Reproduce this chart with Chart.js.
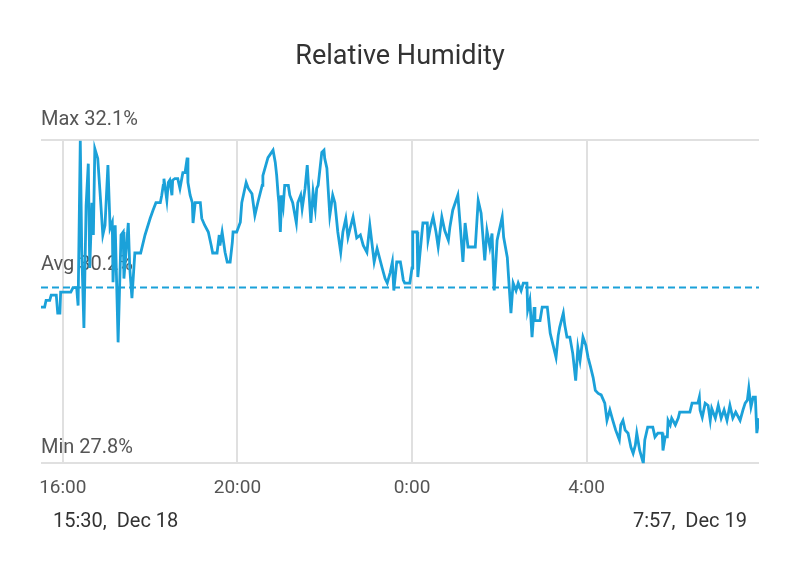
<!DOCTYPE html>
<html>
<head>
<meta charset="utf-8">
<title>Relative Humidity</title>
<script src="https://cdn.jsdelivr.net/npm/chart.js@4.4.1/dist/chart.umd.min.js"></script>
<style>
  html, body { margin: 0; padding: 0; background: #ffffff; }
  #wrap { width: 800px; height: 573px; }
</style>
</head>
<body>
<div id="wrap"><canvas id="humedadChart" width="800" height="573"></canvas></div>
<script>
// Minutos desde las 15:30 del 18 dic
const minutos = [
  0, 5, 7, 12, 14, 21, 23, 26, 27, 41, 44, 49, 51, 54, 56, 59, 62, 65, 67, 70,
  72, 74, 78, 81, 85, 88, 92, 95, 98, 99, 102, 106, 110, 113, 114, 120, 122, 125, 129, 137,
  143, 150, 154, 158, 164, 166, 168, 169, 173, 175, 177, 180, 181, 184, 188, 191, 195, 198, 201, 202,
  205, 208, 209, 212, 219, 221, 225, 230, 234, 236, 242, 245, 246, 249, 253, 256, 260, 263, 264, 269,
  274, 276, 282, 285, 290, 294, 298, 304, 305, 312, 319, 322, 324, 326, 327, 329, 331, 333, 335, 340,
  342, 346, 351, 353, 357, 359, 363, 366, 368, 371, 374, 377, 379, 381, 386, 389, 390, 393, 397, 401,
  404, 408, 412, 415, 419, 422, 425, 429, 434, 439, 443, 448, 452, 458, 462, 469, 473, 476, 480, 483,
  485, 489, 494, 496, 498, 500, 507, 510, 511, 517, 518, 521, 525, 531, 532, 535, 539, 543, 546, 551,
  555, 560, 562, 566, 573, 576, 580, 583, 587, 597, 601, 605, 610, 613, 617, 620, 623, 627, 634, 636,
  641, 643, 646, 649, 653, 656, 660, 663, 668, 669, 672, 675, 678, 679, 686, 689, 696, 700, 704, 708,
  711, 713, 718, 720, 723, 727, 731, 735, 738, 741, 745, 749, 752, 755, 759, 762, 766, 770, 775, 778,
  782, 786, 790, 795, 797, 800, 803, 807, 811, 814, 817, 819, 823, 828, 830, 834, 841, 844, 848, 854,
  855, 858, 861, 862, 865, 867, 872, 876, 878, 892, 895, 903, 905, 906, 909, 913, 917, 920, 922, 927,
  931, 935, 939, 943, 947, 951, 955, 961, 965, 968, 971, 973, 976, 979, 982, 984, 987
];

// Humedad relativa (%)
const humedad = [
  29.88, 29.88, 29.97, 29.97, 30.04, 30.04, 29.80, 29.80, 30.08, 30.08, 30.14, 30.14, 29.90, 32.10, 30.64, 29.60, 31.23, 31.79, 30.40, 31.27,
  30.84, 31.99, 31.86, 31.43, 30.84, 30.97, 31.77, 30.93, 31.01, 30.21, 30.97, 29.41, 30.84, 30.88, 30.26, 31.00, 30.40, 30.00, 30.60, 30.60,
  30.84, 31.06, 31.17, 31.27, 31.27, 31.37, 31.50, 31.59, 31.30, 31.54, 31.57, 31.37, 31.57, 31.59, 31.59, 31.46, 31.67, 31.67, 31.87, 31.54,
  31.37, 31.27, 31.00, 31.27, 31.27, 31.06, 30.97, 30.88, 30.70, 30.60, 30.60, 30.84, 30.70, 30.88, 30.61, 30.48, 30.48, 30.74, 30.88, 30.88,
  31.01, 31.27, 31.54, 31.46, 31.39, 31.10, 31.27, 31.50, 31.63, 31.87, 31.97, 31.81, 31.63, 31.37, 31.27, 30.88, 31.37, 31.23, 31.50, 31.50,
  31.37, 31.27, 31.00, 31.27, 31.37, 31.19, 31.46, 31.77, 31.46, 31.00, 31.41, 31.19, 31.46, 31.50, 31.94, 31.97, 31.86, 31.73, 31.10, 31.37,
  31.27, 30.88, 30.61, 30.88, 31.06, 30.81, 30.93, 31.08, 30.80, 30.84, 30.70, 30.61, 30.97, 30.48, 30.66, 30.40, 30.26, 30.20, 30.34, 30.48,
  30.10, 30.48, 30.48, 30.37, 30.24, 30.20, 30.20, 30.40, 30.88, 30.88, 30.28, 30.60, 31.00, 31.00, 30.77, 30.93, 31.08, 30.88, 30.68, 31.08,
  30.90, 30.77, 30.94, 31.17, 31.37, 31.00, 30.48, 31.00, 30.68, 30.68, 31.30, 31.13, 30.50, 30.90, 30.68, 30.86, 30.10, 30.77, 31.08, 30.81,
  30.54, 30.24, 29.80, 30.20, 30.10, 30.20, 30.10, 30.20, 30.20, 29.84, 29.97, 29.48, 29.88, 29.70, 29.70, 29.88, 29.88, 29.53, 29.37, 29.21,
  29.50, 29.61, 29.80, 29.64, 29.48, 29.48, 29.26, 28.90, 29.34, 29.17, 29.48, 29.37, 29.21, 29.10, 28.94, 28.77, 28.73, 28.71, 28.60, 28.37,
  28.51, 28.37, 28.24, 28.11, 28.31, 28.37, 28.24, 28.20, 28.01, 27.93, 28.04, 28.20, 27.97, 27.80, 28.11, 28.28, 28.28, 28.15, 28.20, 28.20,
  27.97, 28.15, 28.15, 28.37, 28.31, 28.40, 28.31, 28.40, 28.48, 28.48, 28.60, 28.60, 28.68, 28.51, 28.41, 28.60, 28.57, 28.37, 28.53, 28.40,
  28.57, 28.40, 28.51, 28.37, 28.57, 28.40, 28.48, 28.37, 28.51, 28.60, 28.64, 28.80, 28.55, 28.68, 28.68, 28.20, 28.40
];

const tickMinutos = [30, 270, 510, 750];
const tickLabels = ["16:00", "20:00", "0:00", "4:00"];
const finMinutos = 987;

const maxHum = 32.1;
const minHum = 27.8;
const avgHum = 30.14; // donde cae la linea punteada
const statLabels = ["Max 32.1%", "Avg 30.2%", "Min 27.8%"];
const rangoLabels = ["15:30,  Dec 18", "7:57,  Dec 19"];

const azul = "#1ba1d9";
const gris = "#e0e0e0";
const fuente = "Roboto, 'Noto Sans', sans-serif";

// Textos Max/Avg/Min (debajo de la linea) y rango de fechas abajo
const textosPlugin = {
  id: "textos",
  beforeDatasetsDraw(chart) {
    const { ctx, chartArea, scales } = chart;
    const y = scales.y;
    ctx.save();
    ctx.font = "20px " + fuente;
    ctx.fillStyle = "#555555";
    ctx.textAlign = "left";
    ctx.textBaseline = "alphabetic";
    ctx.fillText(statLabels[0], chartArea.left, y.getPixelForValue(maxHum) - 15);
    ctx.fillText(statLabels[1], chartArea.left, y.getPixelForValue(avgHum) - 18);
    ctx.fillText(statLabels[2], chartArea.left, y.getPixelForValue(minHum) - 10);
    ctx.restore();
  },
  afterDraw(chart) {
    const { ctx, chartArea } = chart;
    ctx.save();
    ctx.font = "20px " + fuente;
    ctx.fillStyle = "#333333";
    ctx.textBaseline = "middle";
    ctx.textAlign = "left";
    ctx.fillText(rangoLabels[0], chartArea.left + 12, chartArea.bottom + 59);
    ctx.textAlign = "right";
    ctx.fillText(rangoLabels[1], chartArea.right - 12, chartArea.bottom + 59);
    ctx.restore();
  }
};

const ctx = document.getElementById("humedadChart").getContext("2d");

new Chart(ctx, {
  type: "line",
  data: {
    datasets: [
      {
        label: "Humedad",
        data: humedad.map((v, i) => ({ x: minutos[i], y: v })),
        borderColor: azul,
        borderWidth: 2.8,
        pointRadius: 0,
        tension: 0,
        fill: false,
      },
      {
        label: "Promedio",
        data: [{ x: 0, y: avgHum }, { x: finMinutos, y: avgHum }],
        borderColor: azul,
        borderWidth: 2,
        borderDash: [7, 4],
        pointRadius: 0,
        fill: false,
      }
    ]
  },
  options: {
    responsive: false,
    animation: false,
    devicePixelRatio: 1,
    layout: {
      padding: { left: 41, right: 41, top: 0, bottom: 59 }
    },
    plugins: {
      legend: { display: false },
      tooltip: { enabled: false },
      title: {
        display: true,
        text: "Relative Humidity",
        color: "#333333",
        font: { family: fuente, size: 27, weight: "normal" },
        padding: { top: 41, bottom: 67 }
      }
    },
    scales: {
      x: {
        type: "linear",
        min: 0,
        max: finMinutos,
        afterBuildTicks: (scale) => {
          scale.ticks = tickMinutos.map(v => ({ value: v }));
        },
        ticks: {
          autoSkip: false,
          maxRotation: 0,
          padding: 14,
          color: "#555555",
          font: { family: fuente, size: 19 },
          callback: (value, index) => tickLabels[index]
        },
        grid: { color: gris, lineWidth: 2, drawTicks: false },
        border: { display: false }
      },
      y: {
        min: minHum,
        max: maxHum,
        afterBuildTicks: (scale) => {
          scale.ticks = [{ value: minHum }, { value: maxHum }];
        },
        ticks: { display: false },
        grid: { color: gris, lineWidth: 2, drawTicks: false },
        border: { display: false }
      }
    }
  },
  plugins: [textosPlugin]
});
</script>
</body>
</html>
